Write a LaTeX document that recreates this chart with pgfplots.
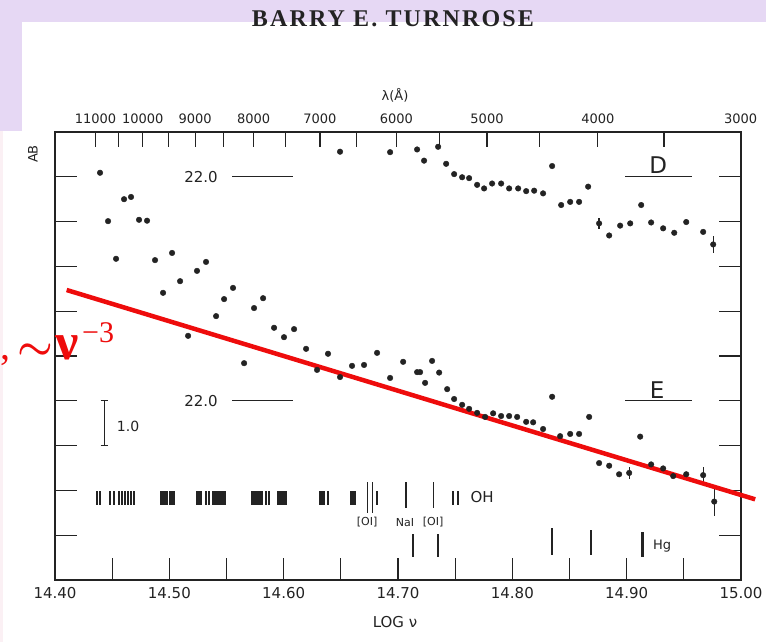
\documentclass[border=0pt]{standalone}
\usepackage{fontspec}
\setmainfont{Liberation Serif}
\newfontfamily\lett{DejaVu Sans}
\newfontfamily\titlefont[LetterSpace=9]{Liberation Serif}
\usepackage{pgfplots}
\pgfplotsset{compat=1.18}
\definecolor{lav}{RGB}{230,216,244}
\definecolor{ink}{RGB}{35,35,35}
\definecolor{annot}{RGB}{238,12,12}

\pgfplotsset{
  dots/.style={only marks, mark=*, mark size=2.8pt, color=ink},
  bars/.style={draw=none, mark=none, forget plot,
    error bars/.cd, y dir=both, y explicit, error mark=none,
    error bar style={line width=#1, draw=ink}},
  ref/.style={ink, line width=1.2pt, forget plot},
}

\begin{document}
\begin{tikzpicture}
% page is 766 x 642, 1px = 1pt, origin at lower left corner of the axis box
\fill[white] (-55pt,-62pt) rectangle (711pt,580pt);
\fill[lav] (-55pt,558pt) rectangle (711pt,580pt);
\fill[lav] (-55pt,449pt) rectangle (-33pt,558pt);
\fill[lav!50!pink!30] (-55pt,-62pt) rectangle (-52pt,449pt);

\begin{axis}[
  at={(0pt,0pt)}, anchor=south west,
  scale only axis, width=686pt, height=448pt,
  xmin=14.40, xmax=15.00, ymin=0, ymax=10,
  clip=false,
  axis line style={line width=1.6pt, draw=ink},
  tick style={line width=1.3pt, draw=ink},
  tick align=inside, major tick length=22pt,
  xtick={14.40,14.45,14.50,14.55,14.60,14.65,14.70,14.75,14.80,14.85,14.90,14.95,15.00},
  xticklabels={14.40,,14.50,,14.60,,14.70,,14.80,,14.90,,15.00},
  xtick pos=bottom,
  ytick={1,2,3,4,5,6,7,8,9}, yticklabels={}, ytick pos=both,
  xticklabel style={font=\lett\fontsize{15}{15}\selectfont, text=ink, yshift=-4pt},
]
% galaxy E
\addplot[dots] table {
x y
14.4394 9.09
14.4464 8.01
14.4534 7.17
14.4604 8.50
14.4665 8.55
14.4735 8.04
14.4805 8.02
14.4875 7.14
14.4945 6.41
14.5024 7.30
14.5094 6.67
14.5164 5.45
14.5242 6.90
14.5321 7.10
14.5409 5.89
14.5479 6.27
14.5557 6.52
14.5654 4.84
14.5741 6.07
14.5820 6.29
14.5916 5.63
14.6003 5.42
14.6091 5.60
14.6196 5.16
14.6292 4.69
14.6388 5.05
14.6493 4.53
14.6598 4.78
14.6703 4.80
14.6817 5.07
14.6931 4.51
14.7045 4.87
14.7167 4.64
14.7193 4.64
14.7237 4.40
14.7298 4.89
14.7360 4.63
14.7430 4.26
14.7491 4.04
14.7561 3.91
14.7622 3.82
14.7692 3.73
14.7762 3.64
14.7832 3.72
14.7902 3.66
14.7972 3.66
14.8042 3.64
14.8121 3.53
14.8182 3.52
14.8269 3.37
14.8348 4.09
14.8418 3.21
14.8506 3.26
14.8584 3.26
14.8672 3.64
14.8759 2.61
14.8847 2.55
14.8934 2.36
14.9022 2.39
14.9118 3.20
14.9214 2.58
14.9319 2.49
14.9407 2.32
14.9521 2.36
14.9669 2.34
14.9766 1.75
};
% galaxy D
\addplot[dots] table {
x y
14.6493 9.56
14.6931 9.55
14.7167 9.61
14.7228 9.36
14.7351 9.67
14.7421 9.29
14.7491 9.06
14.7561 8.99
14.7622 8.97
14.7692 8.82
14.7753 8.74
14.7823 8.85
14.7902 8.85
14.7972 8.74
14.8051 8.74
14.8121 8.68
14.8191 8.69
14.8269 8.63
14.8348 9.24
14.8427 8.37
14.8506 8.44
14.8584 8.44
14.8663 8.78
14.8759 7.96
14.8847 7.69
14.8943 7.91
14.9031 7.96
14.9127 8.37
14.9214 7.98
14.9319 7.85
14.9416 7.75
14.9521 7.99
14.9669 7.77
14.9757 7.49
};
% error bars
\addplot[bars=1.3pt] coordinates {
(14.8759,7.96) +- (0,0.13)
(14.9757,7.49) +- (0,0.18)
(14.9022,2.39) +- (0,0.13)
(14.9669,2.34) +- (0,0.18)
(14.9766,1.75) +- (0,0.33)
};

% 22.0 reference marks
\addplot[ref] coordinates {(14.5549,9) (14.6082,9)};
\addplot[ref] coordinates {(14.5549,4) (14.6082,4)};
\addplot[ref] coordinates {(14.8987,9) (14.9573,9)};
\addplot[ref] coordinates {(14.8987,4) (14.9573,4)};
% 1.0 mag scale bar
\addplot[ref] coordinates {(14.4431,3) (14.4431,4)};
\addplot[ref] coordinates {(14.4400,3) (14.4462,3)};
\addplot[ref] coordinates {(14.4400,4) (14.4462,4)};

% night sky OH bands
\addplot[bars=1.6pt] table[y error=e] {
x y e
14.4367 1.83 0.16
14.4394 1.83 0.16
14.4481 1.83 0.16
14.4516 1.83 0.16
14.4560 1.83 0.16
14.4586 1.83 0.16
14.4612 1.83 0.16
14.4639 1.83 0.16
14.4665 1.83 0.16
14.4691 1.83 0.16
14.4927 1.83 0.16
14.4945 1.83 0.16
14.4962 1.83 0.16
14.4980 1.83 0.16
14.5006 1.83 0.16
14.5024 1.83 0.16
14.5041 1.83 0.16
14.5242 1.83 0.16
14.5260 1.83 0.16
14.5277 1.83 0.16
14.5321 1.83 0.16
14.5347 1.83 0.16
14.5382 1.83 0.16
14.5400 1.83 0.16
14.5417 1.83 0.16
14.5435 1.83 0.16
14.5452 1.83 0.16
14.5470 1.83 0.16
14.5487 1.83 0.16
14.5724 1.83 0.16
14.5741 1.83 0.16
14.5759 1.83 0.16
14.5776 1.83 0.16
14.5794 1.83 0.16
14.5811 1.83 0.16
14.5846 1.83 0.16
14.5872 1.83 0.16
14.5951 1.83 0.16
14.5969 1.83 0.16
14.5986 1.83 0.16
14.6003 1.83 0.16
14.6021 1.83 0.16
14.6318 1.83 0.16
14.6336 1.83 0.16
14.6353 1.83 0.16
14.6388 1.83 0.16
14.6590 1.83 0.16
14.6607 1.83 0.16
14.6625 1.83 0.16
14.6817 1.83 0.16
14.7482 1.83 0.16
14.7526 1.83 0.16
};
% [OI], NaI, [OI]
\addplot[bars=1.1pt] table[y error=e] {
x y e
14.6731 1.845 0.345
14.6775 1.845 0.345
14.7070 1.900 0.290
14.7310 1.900 0.290
};
% Hg lamp lines
\addplot[bars=2.6pt] table[y error=e] {
x y e
14.7132 0.77 0.26
14.9136 0.80 0.28
};
\addplot[bars=1.3pt] table[y error=e] {
x y e
14.7351 0.77 0.26
14.8348 0.86 0.30
14.8689 0.84 0.28
};

% power law guide
\addplot[annot, line width=4.5pt] coordinates {(14.4102,6.473) (15.0124,1.801)};

\node[font=\lett\fontsize{15}{15}\selectfont, text=ink] at (axis cs:14.5277,9) {22.0};
\node[font=\lett\fontsize{15}{15}\selectfont, text=ink] at (axis cs:14.5277,4) {22.0};
\node[font=\lett\fontsize{23}{23}\selectfont, text=ink] at (axis cs:14.9276,9.27) {D};
\node[font=\lett\fontsize{23}{23}\selectfont, text=ink] at (axis cs:14.9267,4.24) {E};
\node[font=\lett\fontsize{14}{14}\selectfont, text=ink] at (axis cs:14.4639,3.42) {1.0};
\node[font=\lett\fontsize{15}{15}\selectfont, text=ink] at (axis cs:14.7736,1.85) {OH};
\node[font=\lett\fontsize{11}{11}\selectfont, text=ink] at (axis cs:14.6730,1.29) {[OI]};
\node[font=\lett\fontsize{11}{11}\selectfont, text=ink] at (axis cs:14.7062,1.29) {NaI};
\node[font=\lett\fontsize{11}{11}\selectfont, text=ink] at (axis cs:14.7307,1.29) {[OI]};
\node[font=\lett\fontsize{13}{13}\selectfont, text=ink] at (axis cs:14.9311,0.76) {Hg};
\end{axis}

% wavelength scale along the top
\begin{axis}[
  at={(0pt,0pt)}, anchor=south west,
  scale only axis, width=686pt, height=448pt,
  xmin=14.40, xmax=15.00, ymin=0, ymax=10,
  axis x line*=top, axis y line=none,
  axis line style={line width=1.6pt, draw=ink},
  tick style={line width=1.3pt, draw=ink},
  tick align=inside, major tick length=15pt, minor tick length=15pt,
  xtick={14.43543,14.47682,14.52258,14.57373,14.63172,14.69867,14.77785,14.87476,14.99970},
  xticklabels={11000,10000,9000,8000,7000,6000,5000,4000,3000},
  minor xtick={14.45563,14.49910,14.54740,14.60176,14.66391,14.73646,14.82361,14.93275},
  xticklabel style={font=\lett\fontsize{13}{13}\selectfont, text=ink, yshift=5pt},
]
\end{axis}

\node[font=\titlefont\bfseries\fontsize{24}{24}\selectfont, text=ink] at (338pt,561pt) {BARRY E. TURNROSE};
\node[font=\lett\fontsize{13}{13}\selectfont, text=ink] at (340pt,485pt) {λ(Å)};
\node[font=\lett\fontsize{13}{13}\selectfont, text=ink, rotate=90] at (-22pt,426pt) {AB};
\node[font=\lett\fontsize{15}{15}\selectfont, text=ink] at (340pt,-42pt) {LOG ν};

% red annotation, ~ nu^-3
\node[anchor=base west, annot, inner sep=0pt] at (-55pt,220pt) {\fontsize{40}{40}\selectfont ,};
\node[anchor=base west, annot, inner sep=0pt] at (-38pt,220pt) {\scalebox{4}{\boldmath$\sim$}};
\node[anchor=base west, annot, inner sep=0pt] at (0pt,220pt) {\fontsize{52}{52}\selectfont\bfseries ν};
\node[anchor=base west, annot, inner sep=0pt] at (27pt,237pt) {\fontsize{30}{30}\selectfont −3};

\pgfresetboundingbox
\useasboundingbox (-55pt,-62pt) rectangle (711pt,580pt);
\end{tikzpicture}
\end{document}
